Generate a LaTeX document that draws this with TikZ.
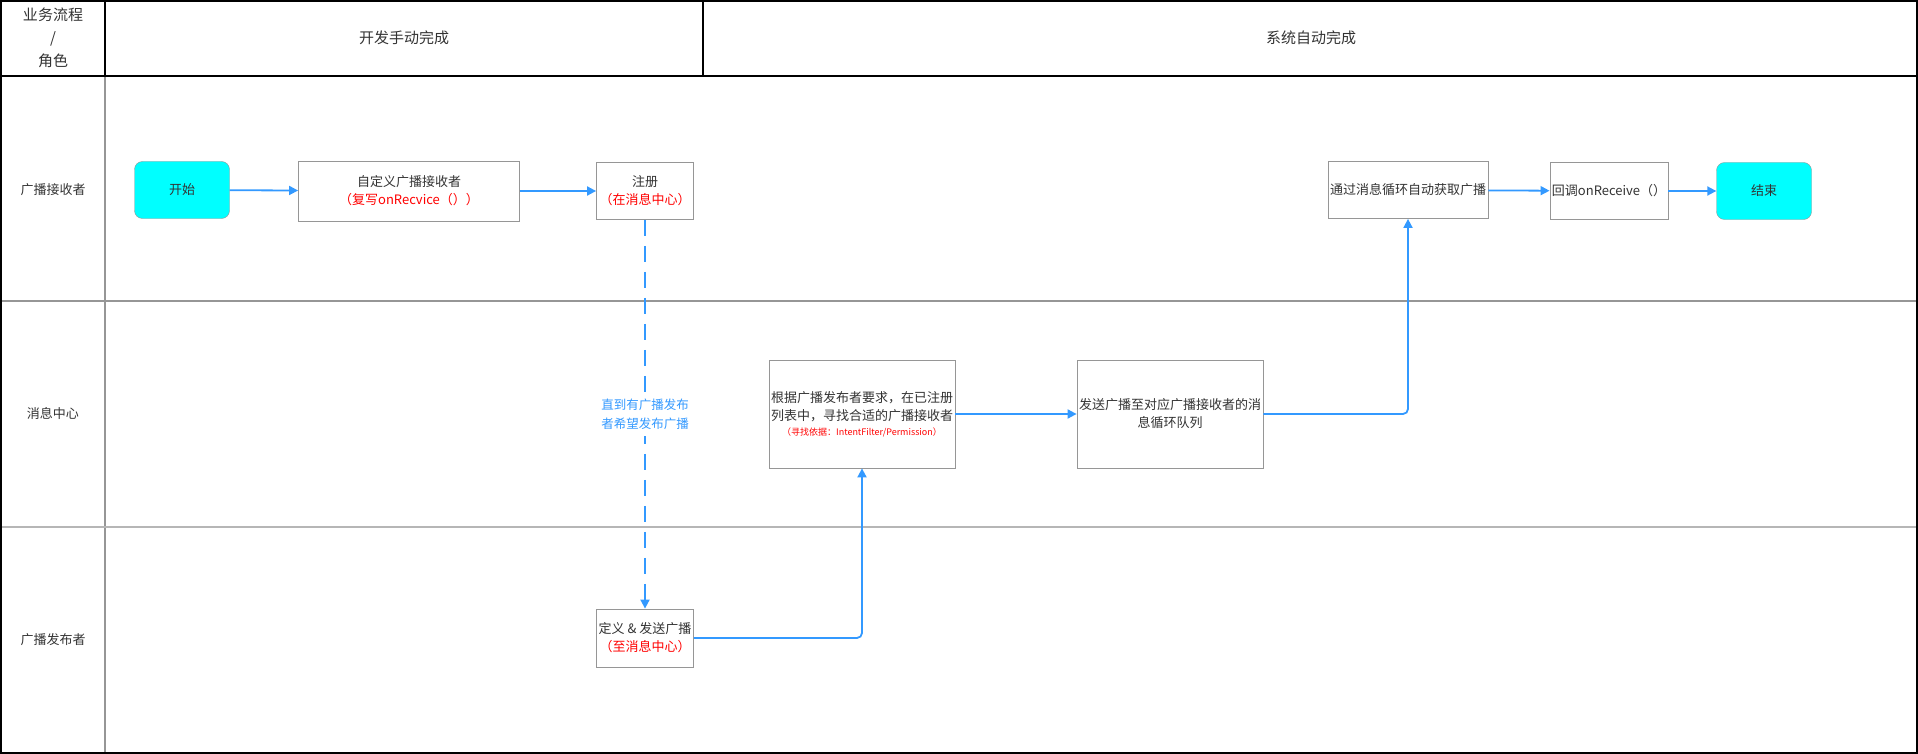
\documentclass[tikz,border=0pt]{standalone}
\usepackage{fontspec}
\setmainfont{Noto Sans CJK SC}
\usetikzlibrary{arrows.meta}

\definecolor{flowblue}{RGB}{51,153,255}
\definecolor{textgray}{RGB}{51,51,51}
\definecolor{boxgray}{RGB}{150,150,150}
\definecolor{startcyan}{RGB}{0,255,255}

\begin{document}
\begin{tikzpicture}[
  x=1pt, y=-1pt,
  terminal/.style={rectangle, rounded corners=8pt, draw=boxgray, fill=startcyan, minimum width=95pt, minimum height=57pt, font=\fontsize{13}{16}\selectfont, text=textgray, align=center},
  task/.style={rectangle, draw=boxgray, fill=white, thick, font=\fontsize{13}{18}\selectfont, text=textgray, align=center, inner sep=2pt},
  lanelabel/.style={font=\fontsize{13}{16}\selectfont, text=textgray, align=center},
  headlabel/.style={font=\fontsize{15}{23}\selectfont, text=textgray, align=center},
  flow/.style={-{Triangle[length=9pt, width=9pt]}, draw=flowblue, line width=1.8pt},
  waitflow/.style={flow, dash pattern=on 16pt off 10pt}
]

\useasboundingbox (0,0) rectangle (1918,754);

% swimlane table
\draw[boxgray, line width=2pt] (105,76) -- (105,753);
\draw[boxgray, line width=2pt] (0,301) -- (1918,301);
\draw[boxgray!70, line width=2.5pt] (0,527) -- (1918,527);
\draw[black, line width=1.5pt] (1,1) rectangle (1917,76);
\draw[black, line width=1.5pt] (105,1) -- (105,76);
\draw[black, line width=1.5pt] (703,1) -- (703,76);
\draw[black, line width=1.5pt] (1,76) -- (1,753) -- (1917,753) -- (1917,76);

\node[headlabel] (corner) at (53,38) {业务流程\\/\\角色};
\node[headlabel] (manual) at (404,38) {开发手动完成};
\node[headlabel] (auto) at (1311,38) {系统自动完成};

\node[lanelabel] (receiver) at (53,190) {广播接收者};
\node[lanelabel] (center) at (53,413) {消息中心};
\node[lanelabel] (publisher) at (53,640) {广播发布者};

% receiver lane
\node[terminal] (start) at (182,190) {开始};
\node[task, minimum width=221pt, minimum height=60pt] (custom) at (409,191) {自定义广播接收者\\{\color{red}（复写onRecvice（））}};
\node[task, minimum width=97pt, minimum height=57pt] (reg) at (645,191) {注册\\{\color{red}（在消息中心）}};
\node[task, minimum width=154pt, minimum height=57pt] (fetch) at (1408,190) {通过消息循环自动获取广播};
\node[task, minimum width=114pt, minimum height=57pt] (callback) at (1609,191) {回调onReceive（）};
\node[terminal] (finish) at (1764,191) {结束};

% message center lane
\node[task, minimum width=183pt, minimum height=108pt] (match) at (862,414) {根据广播发布者要求，在已注册\\列表中，寻找合适的广播接收者\\[-3pt]{\color{red}\fontsize{9}{12}\selectfont（寻找依据：IntentFilter/Permission）}};
\node[task, minimum width=184pt, minimum height=108pt] (enqueue) at (1170,414) {发送广播至对应广播接收者的消\\息循环队列};

% publisher lane
\node[task, minimum width=97pt, minimum height=58pt] (send) at (645,638) {定义 \& 发送广播\\{\color{red}（至消息中心）}};

% connectors
\draw[flow] (start) -- (custom);
\draw[flow] (custom) -- (reg);
\draw[waitflow] (reg) -- node[fill=white, text=flowblue, font=\fontsize{12.5}{19}\selectfont, align=center, inner ysep=6pt] {直到有广播发布\\者希望发布广播} (send);
\draw[flow, rounded corners=5pt] (send.east) -| (match.south);
\draw[flow] (match) -- (enqueue);
\draw[flow, rounded corners=5pt] (enqueue.east) -| (fetch.south);
\draw[flow] (fetch) -- (callback);
\draw[flow] (callback) -- (finish);

\end{tikzpicture}
\end{document}
